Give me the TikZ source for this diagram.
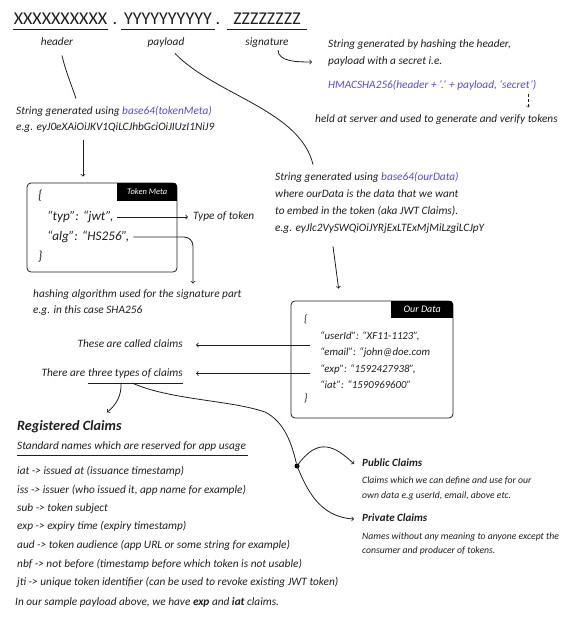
\documentclass[tikz,border=0pt]{standalone}
\usepackage{fontspec}
\setmainfont{Carlito}
\usepackage{xcolor}
\usepackage{tikz}
\usetikzlibrary{arrows, calc}
\definecolor{link-color}{RGB}{88,72,240}
\colorlet{ink-color}{black!88}
\tikzset{
    note/.style = {anchor=west, inner sep=0pt, text height=8pt, text depth=2.5pt,
        text=ink-color, font=\itshape\fontsize{11.3}{13}\selectfont},
    small-note/.style = {note, font=\itshape\fontsize{9.7}{11}\selectfont},
    head-note/.style = {note, text height=10pt, text depth=3pt, font=\bfseries\itshape\fontsize{14.2}{16}\selectfont},
    sub-head/.style = {note, font=\bfseries\itshape\fontsize{11}{13}\selectfont},
    code-line/.style = {note, text height=9.5pt, font=\itshape\fontsize{13.2}{15}\selectfont},
    code-small/.style = {note, font=\itshape\fontsize{10.8}{12}\selectfont},
    token-part/.style = {inner sep=0pt, text height=12pt, text depth=0pt, text=ink-color,
        font=\fontsize{18}{20}\selectfont},
    code-box/.style = {draw=ink-color, rounded corners=4pt, line width=0.8pt, inner sep=0pt},
    tab-label/.style = {fill=black, text=white, inner sep=0pt, font=\itshape\fontsize{8.5}{10}\selectfont},
    pen/.style = {draw=ink-color, line width=0.8pt},
    pen-arrow/.style = {pen, ->, >=to},
    fork-dot/.style = {circle, fill=black, inner sep=0pt, minimum size=5pt},
}

\begin{document}
\begin{tikzpicture}[x=1pt, y=-1pt]
\useasboundingbox (0,0) rectangle (576,624);

% the token
\node[token-part, minimum width=95] (hx) at (60.5,18.5) {XXXXXXXXXX};
\node[token-part] (dot-a) at (115,18.5) {.};
\node[token-part, minimum width=94] (hy) at (168,18.5) {YYYYYYYYYY};
\node[token-part] (dot-b) at (218,18.5) {.};
\node[token-part, minimum width=80] (hz) at (267,18.5) {ZZZZZZZZ};
\draw[pen] ([yshift=-5pt]hx.south west) -- ([yshift=-5pt]hx.south east);
\draw[pen] ([yshift=-5pt]hy.south west) -- ([yshift=-5pt]hy.south east);
\draw[pen] ([yshift=-5pt]hz.south west) -- ([yshift=-5pt]hz.south east);

\node[note, anchor=center] (h-lab) at (57,43) {header};
\node[note, anchor=center] (p-lab) at (166,43) {payload};
\node[note, anchor=center] (s-lab) at (267,43) {signature};

% signature
\node[note] (sig-a) at (328,45) {String generated by hashing the header,};
\node[note] (sig-b) at (328,62) {payload with a secret i.e.};
\node[note, text=link-color] (hmac) at (328,86) {HMACSHA256(header + ‘.’ + payload, ‘secret’)};
\node[note] (held) at (315,120) {held at server and used to generate and verify tokens};
\draw[pen-arrow] ($(s-lab.south)+(11,1.5)$) .. controls +(0,12) and +(-14,0) .. ([xshift=-16pt]sig-b.west);
\draw[pen-arrow, densely dashed, line width=0.5pt] ($(hmac.south west)+(200,3)$) -- ($(held.north west)+(213,-7)$);

% header
\node[note] (meta-str) at (16,112) {String generated using \textcolor{link-color}{base64(tokenMeta)}};
\node[note] (meta-eg) at (16,128) {e.g. eyJ0eXAiOiJKV1QiLCJhbGciOiJIUzI1NiJ9};
\draw[pen] ($(h-lab.south)+(5,7)$) .. controls +(3,14) and +(-5,-15) .. ($(meta-str.north west)+(60,-8)$);

\node[code-box, minimum width=150, minimum height=89] (meta) at (102,227.5) {};
\begin{scope}
    \clip[rounded corners=4pt] (meta.north west) rectangle (meta.south east);
    \node[tab-label, minimum width=60, minimum height=18, anchor=north east] (meta-tab) at (meta.north east) {Token Meta};
\end{scope}
\draw[pen-arrow] ($(meta.north)+(-19,-43)$) -- ($(meta.north)+(-19,-6)$);

\node[code-line] (meta-open) at (38,196) {\{};
\node[code-line] (typ) at (47,217) {“typ”: “jwt”,};
\node[code-line] (alg) at (47,237) {“alg”: “HS256”,};
\node[code-line] (meta-close) at (38,257) {\}};

\node[note] (type-txt) at (193,217) {Type of token};
\draw[pen-arrow] ([xshift=3pt]typ.east) -- ([xshift=-5pt]type-txt.west);

\node[note] (hash-a) at (33,295) {hashing algorithm used for the signature part};
\node[note] (hash-b) at (33,311) {e.g. in this case SHA256};
\coordinate (alg-end) at ($(hash-a.north west)+(160,-6)$);
\draw[pen-arrow, rounded corners=9pt] ([xshift=4pt]alg.east) -- (alg-end |- alg.east) -- (alg-end);

% payload
\node[note] (data-a) at (275,178) {String generated using \textcolor{link-color}{base64(ourData)}};
\node[note] (data-b) at (275,195) {where ourData is the data that we want};
\node[note] (data-c) at (275,212) {to embed in the token (aka JWT Claims).};
\node[note] (data-eg) at (275,229) {e.g. eyJlc2VySWQiOiJYRjExLTExMjMiLzgiLCJpY};
\draw[pen] ($(p-lab.south)+(9,5)$) .. controls (215,95) and (300,110) .. ($(data-a.north west)+(38,-8)$);

\node[code-box, minimum width=162, minimum height=117] (data) at (372,359.5) {};
\begin{scope}
    \clip[rounded corners=4pt] (data.north west) rectangle (data.south east);
    \node[tab-label, minimum width=62, minimum height=17, anchor=north east,
        font=\itshape\fontsize{10}{12}\selectfont] (data-tab) at (data.north east) {Our Data};
\end{scope}
\draw[pen-arrow] ($(data-eg.south west)+(58,12)$) -- ($(data.north west)+(48,-12)$);

\node[code-small] (data-open) at (304,320) {\{};
\node[code-small] (user-id) at (320,337) {“userId”: “XF11-1123”,};
\node[code-small] (email) at (320,353) {“email”: “john@doe.com};
\node[code-small] (exp) at (320,369.5) {“exp”: “1592427938”,};
\node[code-small] (iat) at (320,386) {“iat”: “1590969600”};
\node[code-small] (data-close) at (304,399) {\}};

% claims
\node[note, anchor=east] (called) at (183,345) {These are called claims};
\node[note, anchor=east] (types) at (183,373.5) {three types of claims};
\node[note, anchor=east] (types-pre) at ([xshift=-2.5pt]types.west) {There are};
\coordinate (claim-a) at ($(data.west)+(19,-14.5)$);
\coordinate (claim-b) at ($(data.west)+(19,14)$);
\coordinate (called-tip) at ($(called.east)+(13,0)$);
\coordinate (types-tip) at ($(types.east)+(13,0)$);
\draw[pen-arrow] (claim-a) -- (claim-a -| called-tip);
\draw[pen-arrow] (claim-b) -- (claim-b -| types-tip);
\draw[pen] ([yshift=-4pt]types.south west) -- ([yshift=-4pt]types.south east);

\node[head-note] (reg) at (17,427) {Registered Claims};
\node[note] (reg-sub) at (17,447) {Standard names which are reserved for app usage};
\draw[pen] ([yshift=-3pt]reg-sub.south west) -- ([yshift=-3pt, xshift=2pt]reg-sub.south east);
\draw[pen-arrow] ($(types.south west)+(33,4)$) .. controls +(1,12) and +(9,-7) .. ($(reg.north west)+(90,-8)$);

\node[fork-dot] (fork) at (297,466) {};
\draw[pen] ($(types.south west)+(44,4)$) .. controls (170,400) and (230,400) .. (265,412)
    .. controls (285,422) and (292,445) .. (fork);

\node[sub-head] (public) at (362,464) {Public Claims};
\node[small-note] (pub-a) at (362,481) {Claims which we can define and use for our};
\node[small-note] (pub-b) at (362,496) {own data e.g userId, email, above etc.};
\node[sub-head] (private) at (362,519) {Private Claims};
\node[small-note] (priv-a) at (362,537) {Names without any meaning to anyone except the};
\node[small-note] (priv-b) at (362,551) {consumer and producer of tokens.};
\draw[pen-arrow] (fork.center) .. controls (318,436) and (335,446) .. ([xshift=-8pt]public.west);
\draw[pen-arrow] (fork.center) .. controls (306,487) and (318,517) .. ([xshift=-8pt]private.west);

% registered claims list
\node[note] (c-iat) at (17,472) {iat -> issued at (issuance timestamp)};
\node[note] (c-iss) at (17,491) {iss -> issuer (who issued it, app name for example)};
\node[note] (c-sub) at (17,509) {sub -> token subject};
\node[note] (c-exp) at (17,527) {exp -> expiry time (expiry timestamp)};
\node[note] (c-aud) at (17,546) {aud -> token audience (app URL or some string for example)};
\node[note] (c-nbf) at (17,565) {nbf -> not before (timestamp before which token is not usable)};
\node[note] (c-jti) at (17,583) {jti -> unique token identifier (can be used to revoke existing JWT token)};
\node[note] (sample) at (15,603) {In our sample payload above, we have \textbf{exp} and \textbf{iat} claims.};

\end{tikzpicture}
\end{document}
